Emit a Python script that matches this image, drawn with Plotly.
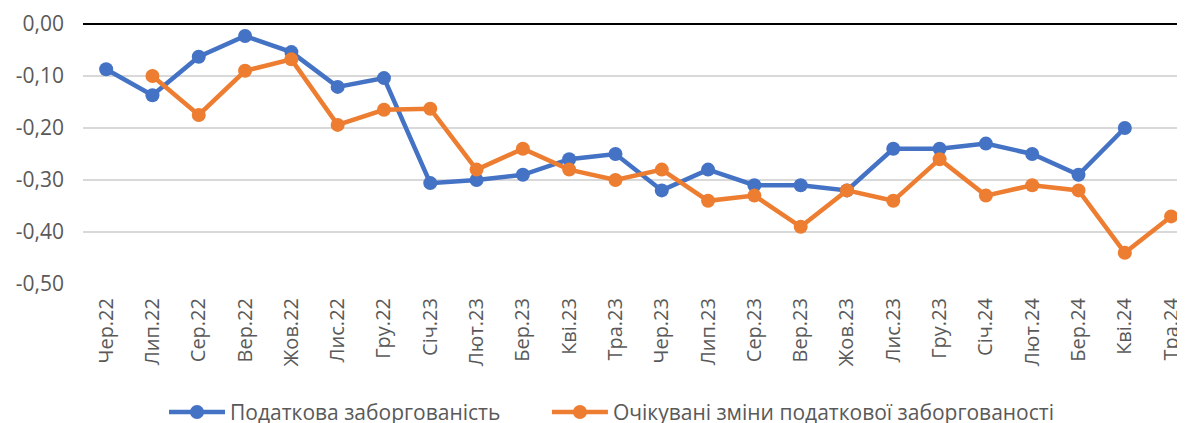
import plotly.graph_objects as go

categories = ["Чер.22", "Лип.22", "Сер.22", "Вер.22", "Жов.22", "Лис.22", "Гру.22",
              "Січ.23", "Лют.23", "Бер.23", "Кві.23", "Тра.23", "Чер.23", "Лип.23",
              "Сер.23", "Вер.23", "Жов.23", "Лис.23", "Гру.23", "Січ.24", "Лют.24",
              "Бер.24", "Кві.24", "Тра.24"]

tax_debt = [-0.087, -0.137, -0.063, -0.023, -0.054, -0.121, -0.104,
            -0.306, -0.300, -0.290, -0.260, -0.250, -0.320, -0.280,
            -0.310, -0.310, -0.320, -0.240, -0.240, -0.230, -0.250,
            -0.290, -0.200, None]

expected_change = [None, -0.100, -0.175, -0.090, -0.068, -0.194, -0.165,
                   -0.163, -0.280, -0.240, -0.280, -0.300, -0.280, -0.340,
                   -0.330, -0.390, -0.320, -0.340, -0.260, -0.330, -0.310,
                   -0.320, -0.440, -0.370]

y_tickvals = [0, -0.1, -0.2, -0.3, -0.4, -0.5]
y_ticktext = ["0,00", "-0,10", "-0,20", "-0,30", "-0,40", "-0,50"]

name_blue = "Податкова заборгованість"
name_orange = "Очікувані зміни податкової заборгованості"

font_family = "Open Sans, Noto Sans, sans-serif"
grey = "#595959"

fig = go.Figure()
fig.add_trace(go.Scatter(
    x=list(range(len(categories))), y=tax_debt, name=name_blue,
    mode="lines+markers", line=dict(color="#4472C4", width=4.5),
    marker=dict(size=14, color="#4472C4"), cliponaxis=False, legend="legend"))
fig.add_trace(go.Scatter(
    x=list(range(len(categories))), y=expected_change, name=name_orange,
    mode="lines+markers", line=dict(color="#ED7D31", width=4.5),
    marker=dict(size=14, color="#ED7D31"), cliponaxis=False, legend="legend2"))

legend_common = dict(orientation="h", yanchor="top", y=-0.415, xanchor="left",
                     font=dict(size=21, color=grey), itemwidth=56,
                     bgcolor="rgba(0,0,0,0)")

fig.update_layout(
    width=1177, height=440,
    margin=dict(l=75, r=0, t=16, b=164),
    paper_bgcolor="white", plot_bgcolor="white",
    font=dict(family=font_family, color=grey),
    showlegend=True,
    legend=dict(x=0.0735, **legend_common),
    legend2=dict(x=0.421, **legend_common),
)

fig.update_xaxes(
    tickmode="array", tickvals=list(range(len(categories))), ticktext=categories,
    range=[-0.5, 23.3], tickangle=-90, tickfont=dict(size=20, color=grey),
    showgrid=False, zeroline=False, showline=False, ticks="",
    ticklabelstandoff=9, ticklabeloverflow="allow",
)
fig.update_yaxes(
    range=[-0.5, 0], tickmode="array", tickvals=y_tickvals, ticktext=y_ticktext,
    tickfont=dict(size=21, color=grey), showgrid=True, gridcolor="#D9D9D9",
    gridwidth=1.5, zeroline=True, zerolinecolor="#000000", zerolinewidth=2,
    showline=False, ticks="", ticklabelstandoff=18,
)

fig.write_html("out.html",
               post_script="document.documentElement.style.overflow='hidden';")
